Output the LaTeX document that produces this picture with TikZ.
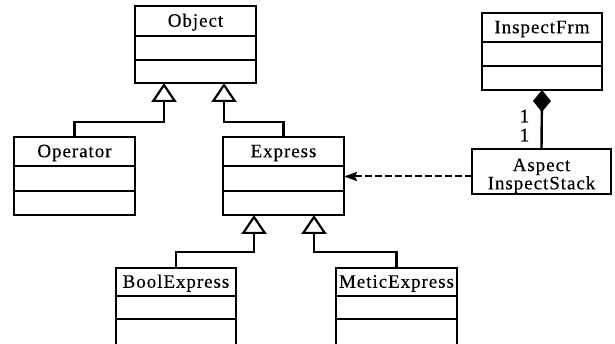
\documentclass[tikz,border=0pt]{standalone}
\usepackage{fontspec}
\setmainfont{Liberation Serif}[LetterSpace=5, FakeBold=0.3]
\usetikzlibrary{arrows.meta,positioning}

\tikzset{
  classfont/.style={font=\fontsize{19}{16}\selectfont},
  classtitle/.style={draw, line width=2.4pt, anchor=north west, inner sep=0pt, outer sep=0pt,
    classfont, text height=12.5pt, text depth=1pt},
  classpart/.style={draw, line width=2.4pt, anchor=north, inner sep=0pt, outer sep=0pt},
  inherit/.style={line width=2.4pt, -{Triangle[open, length=19pt, width=25pt, fill=white, line width=2.2pt]}},
  compose/.style={line width=2.4pt, -{Diamond[length=22pt, width=18pt]}},
  depend/.style={line width=2pt, dash pattern=on 7pt off 3pt, -{Stealth[length=13pt, width=9pt, inset=2pt]}},
  mult/.style={inner sep=0pt, classfont},
}

% class box: name, top-left x, top-left y, width, title height, part heights, title
\newcommand\umlclass[8]{%
  \node[classtitle, minimum width=#4pt, minimum height=#5pt] (#1) at (#2,#3) {#8};
  \node[classpart, minimum width=#4pt, minimum height=#6pt] (#1-a) at (#1.south) {};
  \node[classpart, minimum width=#4pt, minimum height=#7pt] (#1-b) at (#1-a.south) {};
}

\begin{document}
\begin{tikzpicture}[x=1pt, y=-1pt]
  \useasboundingbox (0,0) rectangle (615,344);
  \clip (0,0) rectangle (615,344);

  \umlclass{Object}{135}{6}{121}{30}{24}{23}{Object}
  \umlclass{Operator}{14}{137}{121}{29}{25}{24}{Operator}
  \umlclass{Express}{223}{137}{121}{29}{25}{24}{Express}
  \umlclass{BoolExpress}{116}{268}{120}{28}{23}{40}{BoolExpress}
  \umlclass{MeticExpress}{336}{268}{121}{28}{23}{40}{MeticExpress}
  \umlclass{InspectFrm}{482}{13}{120}{29}{24}{24}{InspectFrm}

  \node[draw, line width=2.4pt, anchor=north west, inner sep=0pt, outer sep=0pt, classfont,
        minimum width=139pt, minimum height=45pt, align=center]
        (Aspect) at (472,149) {\rule{0pt}{21.5pt}Aspect\\InspectStack};

  % generalisations
  \draw[inherit] (Operator.north) -- ++(0,-15) -| ([xshift=-31.5pt]Object-b.south);
  \draw[inherit] (Express.north) -- ++(0,-15) -| ([xshift=28.5pt]Object-b.south);
  \draw[inherit] (BoolExpress.north) -- ++(0,-16) -| ([xshift=-29.5pt]Express-b.south);
  \draw[inherit] (MeticExpress.north) -- ++(0,-16) -| ([xshift=30.5pt]Express-b.south);

  % composition
  \draw[compose] (Aspect.north) -- (InspectFrm-b.south);
  \node[mult] (m1) at (524.5,116) {1};
  \node[mult] (m2) at (524.5,135) {1};

  % dependency
  \coordinate (dep) at ([yshift=-5pt]Aspect.west);
  \draw[depend] (dep) -- (dep -| Express-a.east);
\end{tikzpicture}
\end{document}
